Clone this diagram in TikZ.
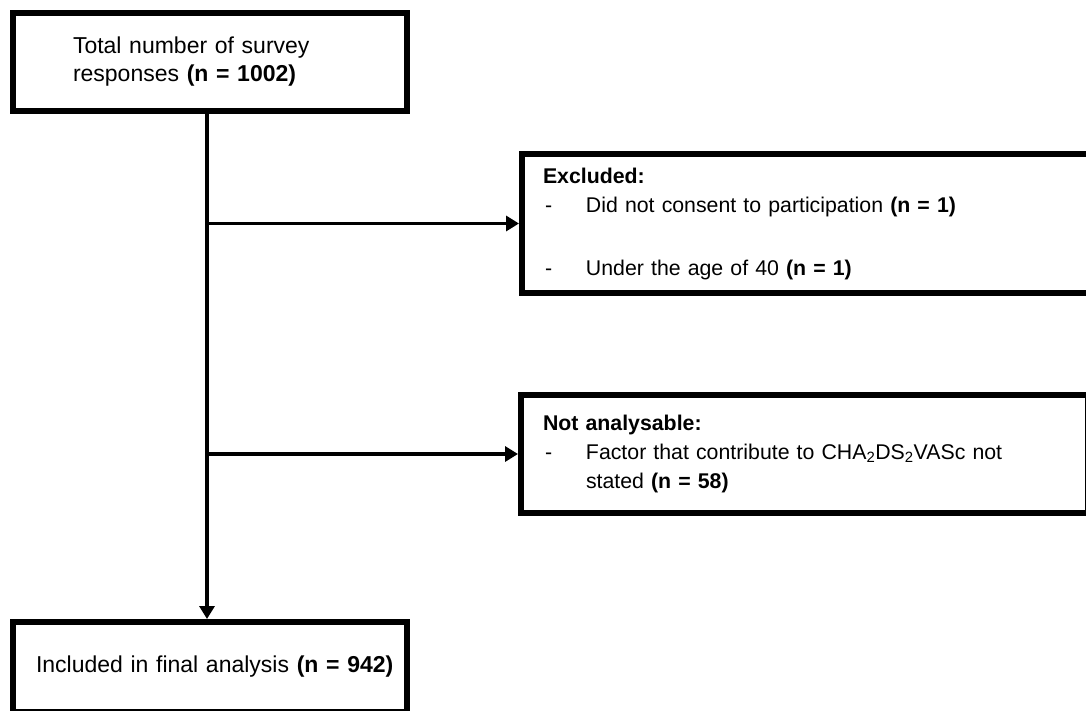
\documentclass[tikz,border=0pt]{standalone}
\usepackage{fontspec}
\setmainfont{Liberation Sans}
\usetikzlibrary{arrows.meta}

\newlength{\dashw}
\setlength{\dashw}{43pt}
\newcommand{\dashitem}[1]{\makebox[\dashw][l]{\hspace{2pt}-}#1}

\begin{document}
\begin{tikzpicture}[x=1pt, y=-1pt,
    stagebox/.style={draw, line width=6pt, anchor=north west, align=left, inner ysep=0pt, outer sep=0pt},
    leftfont/.style={font=\fontsize{23}{28}\selectfont},
    rightfont/.style={font=\fontsize{21.3}{29}\selectfont},
    flowarrow/.style={line width=3.5pt, -{Triangle[length=13pt, width=15pt]}, shorten >=3pt}]
    \useasboundingbox[fill=white] (0,0) rectangle (1086,711);

    % Total responses
    \node[stagebox, leftfont, minimum width=394pt, minimum height=98pt, inner xsep=60pt, text width=274pt] (total) at (13,13)
        {Total number of survey\\responses \textbf{(n = 1002)}};

    % Excluded
    \node[stagebox, rightfont, minimum width=570pt, minimum height=139pt, inner xsep=21pt, text width=528pt] (excluded) at (522,154)
        {\textbf{Excluded:}\\
         \dashitem{Did not consent to participation \textbf{(n = 1)}}\\[34pt]
         \dashitem{Under the age of 40 \textbf{(n = 1)}}};

    % Not analysable
    \node[stagebox, rightfont, minimum width=566.5pt, minimum height=118pt, inner xsep=22pt, text width=522.5pt] (notanalysable) at (521,395)
        {\textbf{Not analysable:}\\
         \dashitem{Factor that contribute to CHA\textsubscript{2}DS\textsubscript{2}VASc not}\\
         \hspace*{\dashw}stated \textbf{(n = 58)}};

    % Included
    \node[stagebox, leftfont, minimum width=394pt, minimum height=90pt, inner xsep=23pt, text width=348pt] (included) at (13,622)
        {\mbox{Included in final analysis \textbf{(n = 942)}}};

    % Arrows
    \coordinate (spine) at (207,0);
    \draw[flowarrow] (total.south -| spine) -- (included.north -| spine);
    \draw[flowarrow] (excluded.west -| spine) -- (excluded.west);
    \draw[flowarrow] (notanalysable.west -| spine) -- (notanalysable.west);
\end{tikzpicture}
\end{document}
